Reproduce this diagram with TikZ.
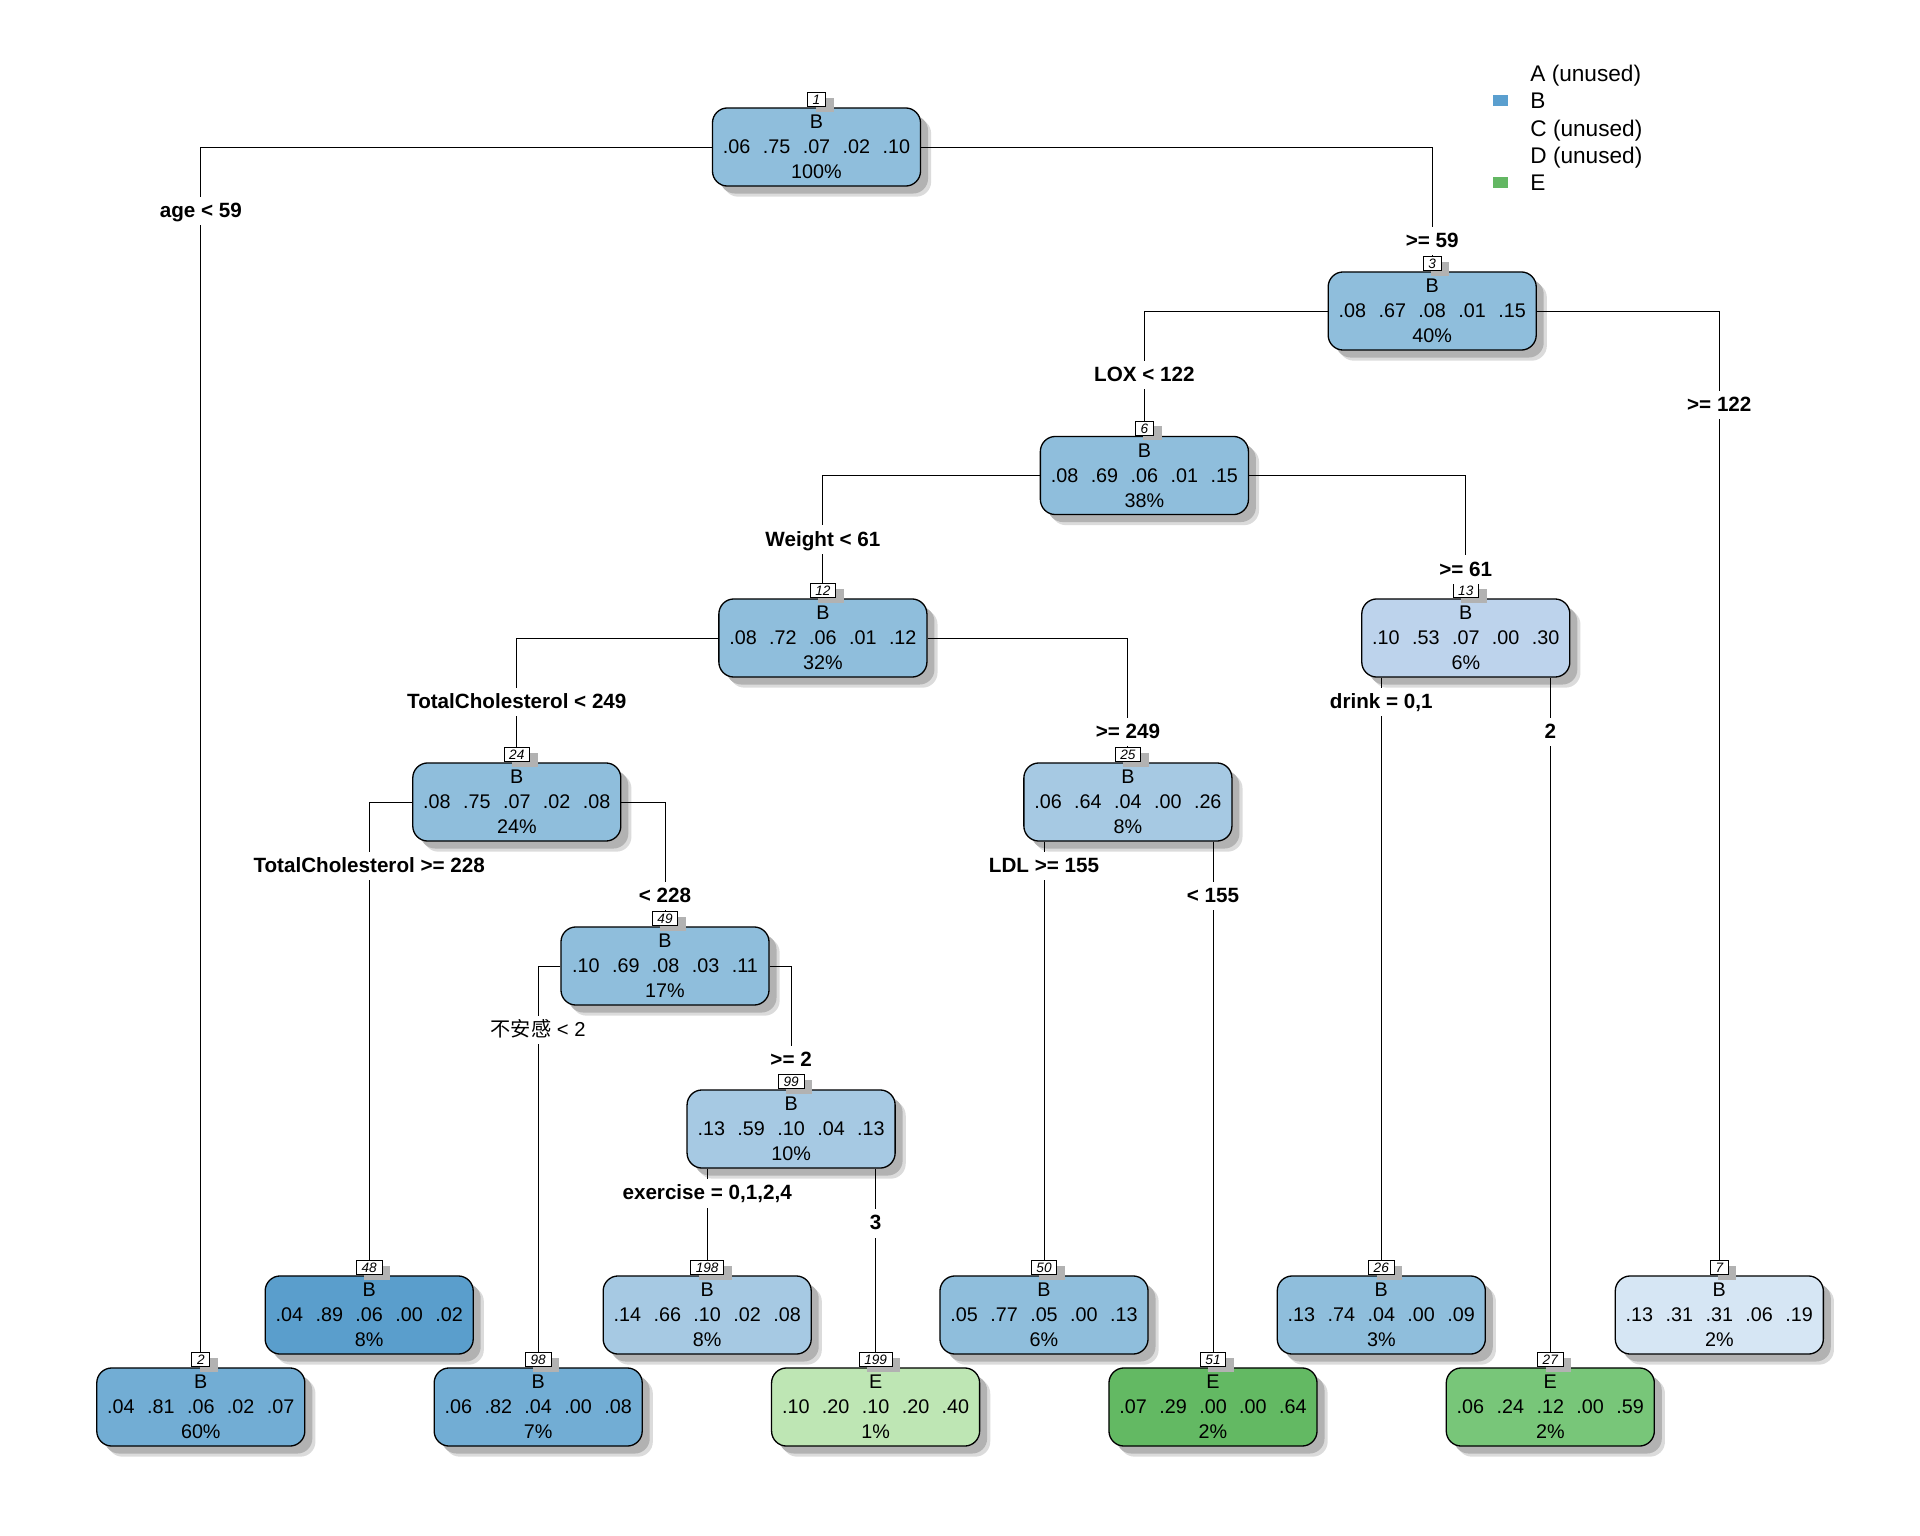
\documentclass[tikz,border=0pt]{standalone}
\usepackage{fontspec}
\setmainfont{Liberation Sans}
\newfontfamily\cjk{Noto Sans CJK SC}
\usepackage{tikz}
\usetikzlibrary{positioning, shadows}

\definecolor{blueD}{HTML}{5A9ECC}
\definecolor{blueC}{HTML}{72ADD4}
\definecolor{blueM}{HTML}{8FBEDC}
\definecolor{blueL}{HTML}{A6C9E3}
\definecolor{blueLL}{HTML}{BDD3EC}
\definecolor{blueW}{HTML}{D6E6F4}
\definecolor{greenL}{HTML}{BEE6B4}
\definecolor{greenM}{HTML}{78C679}
\definecolor{greenD}{HTML}{63B963}
\definecolor{legB}{HTML}{5A9FCF}
\definecolor{legE}{HTML}{63B763}

\def\gap{\hspace{0.63em}}

\begin{document}
\begin{tikzpicture}[x=0.016cm, y=-0.016cm,
  tbox/.style={draw, line width=0.6pt, rounded corners=0.24cm,
    minimum width=3.33cm, minimum height=1.25cm, inner sep=0pt, align=center,
    font=\fontsize{9}{11.4}\selectfont,
    drop shadow={shadow xshift=0.17cm, shadow yshift=-0.17cm, fill=black!14, opacity=1},
    drop shadow={shadow xshift=0.12cm, shadow yshift=-0.12cm, fill=black!30, opacity=1}},
  numbox/.style={draw, line width=0.4pt, fill=white, inner xsep=2.4pt, inner ysep=0pt,
    minimum height=0.224cm, font=\fontsize{6.2}{6.2}\selectfont\itshape,
    drop shadow={shadow xshift=0.13cm, shadow yshift=-0.08cm, fill=black!30, opacity=1}},
  split/.style={fill=white, inner xsep=1pt, inner ysep=2.6pt, text height=7pt, text depth=1pt,
    font=\fontsize{9.4}{11}\selectfont\bfseries},
  edge/.style={line width=0.45pt},
  legtext/.style={anchor=base west, inner sep=0pt, font=\fontsize{10.3}{12}\selectfont}]

\useasboundingbox (0,0) rectangle (1920,1536);

% -------------------------------------------------------
% 1. Split nodes
% -------------------------------------------------------
\node[tbox, fill=blueM] (n1) at (816.5,147) {B\\.06\gap.75\gap.07\gap.02\gap.10\\100\%};
\node[tbox, fill=blueM] (n3) at (1432.2,311) {B\\.08\gap.67\gap.08\gap.01\gap.15\\40\%};
\node[tbox, fill=blueM] (n6) at (1144.4,475.5) {B\\.08\gap.69\gap.06\gap.01\gap.15\\38\%};
\node[tbox, fill=blueM] (n12) at (822.9,638) {B\\.08\gap.72\gap.06\gap.01\gap.12\\32\%};
\node[tbox, fill=blueLL] (n13) at (1465.8,638) {B\\.10\gap.53\gap.07\gap.00\gap.30\\6\%};
\node[tbox, fill=blueM] (n24) at (516.8,802) {B\\.08\gap.75\gap.07\gap.02\gap.08\\24\%};
\node[tbox, fill=blueL] (n25) at (1127.9,802) {B\\.06\gap.64\gap.04\gap.00\gap.26\\8\%};
\node[tbox, fill=blueM] (n49) at (665,966) {B\\.10\gap.69\gap.08\gap.03\gap.11\\17\%};
\node[tbox, fill=blueL] (n99) at (791.1,1129) {B\\.13\gap.59\gap.10\gap.04\gap.13\\10\%};

% -------------------------------------------------------
% 2. Leaves (two rows)
% -------------------------------------------------------
\node[tbox, fill=blueD] (n48) at (369.2,1315) {B\\.04\gap.89\gap.06\gap.00\gap.02\\8\%};
\node[tbox, fill=blueL] (n198) at (707.2,1315) {B\\.14\gap.66\gap.10\gap.02\gap.08\\8\%};
\node[tbox, fill=blueM] (n50) at (1044,1315) {B\\.05\gap.77\gap.05\gap.00\gap.13\\6\%};
\node[tbox, fill=blueM] (n26) at (1381.3,1315) {B\\.13\gap.74\gap.04\gap.00\gap.09\\3\%};
\node[tbox, fill=blueW] (n7) at (1719.3,1315) {B\\.13\gap.31\gap.31\gap.06\gap.19\\2\%};

\node[tbox, fill=blueC] (n2) at (200.8,1407) {B\\.04\gap.81\gap.06\gap.02\gap.07\\60\%};
\node[tbox, fill=blueC] (n98) at (538.2,1407) {B\\.06\gap.82\gap.04\gap.00\gap.08\\7\%};
\node[tbox, fill=greenL] (n199) at (875.6,1407) {E\\.10\gap.20\gap.10\gap.20\gap.40\\1\%};
\node[tbox, fill=greenD] (n51) at (1213,1407) {E\\.07\gap.29\gap.00\gap.00\gap.64\\2\%};
\node[tbox, fill=greenM] (n27) at (1550.3,1407) {E\\.06\gap.24\gap.12\gap.00\gap.59\\2\%};

% node numbers
\foreach \k in {1,3,6,12,13,24,25,49,99,48,198,50,26,7,2,98,199,51,27} {
  \node[numbox, above=0pt of n\k] (k\k) {\k};
}

% -------------------------------------------------------
% 3. Branches
% -------------------------------------------------------
\draw[edge] (n1.west) -| (k2.north);
\draw[edge] (n1.east) -| (k3.north);
\draw[edge] (n3.west) -| (k6.north);
\draw[edge] (n3.east) -| (k7.north);
\draw[edge] (n6.west) -| (k12.north);
\draw[edge] (n6.east) -| (k13.north);
\draw[edge] (n12.west) -| (k24.north);
\draw[edge] (n12.east) -| (k25.north);
\draw[edge] (n13.south -| k26.north) -- (k26.north);
\draw[edge] (n13.south -| k27.north) -- (k27.north);
\draw[edge] (n24.west) -| (k48.north);
\draw[edge] (n24.east) -| (k49.north);
\draw[edge] (n25.south -| k50.north) -- (k50.north);
\draw[edge] (n25.south -| k51.north) -- (k51.north);
\draw[edge] (n49.west) -| (k98.north);
\draw[edge] (n49.east) -| (k99.north);
\draw[edge] (n99.south -| k198.north) -- (k198.north);
\draw[edge] (n99.south -| k199.north) -- (k199.north);

% split labels
\node[split] (s2) at (200.8,211) {age < 59};
\node[split] (s3) at (1432.2,241) {>= 59};
\node[split] (s6) at (1144.4,375) {LOX < 122};
\node[split] (s7) at (1719.3,405) {>= 122};
\node[split] (s12) at (822.9,539.5) {Weight < 61};
\node[split] (s13) at (1465.8,569.5) {>= 61};
\node[split] (s24) at (516.8,702) {TotalCholesterol < 249};
\node[split] (s25) at (1127.9,732) {>= 249};
\node[split] (s26) at (1381.3,702) {drink = 0,1};
\node[split] (s27) at (1550.3,732) {2};
\node[split] (s48) at (369.2,866) {TotalCholesterol >= 228};
\node[split] (s49) at (665,896) {< 228};
\node[split] (s50) at (1044,866) {LDL >= 155};
\node[split] (s51) at (1213,896) {< 155};
\node[split, font=\fontsize{9.2}{11}\selectfont] (s98) at (538.2,1030) {{\cjk 不安感} < 2};
\node[split] (s99) at (791.1,1060) {>= 2};
\node[split] (s198) at (707.2,1193) {exercise = 0,1,2,4};
\node[split] (s199) at (875.6,1223) {3};

% -------------------------------------------------------
% 4. Legend
% -------------------------------------------------------
\fill[legB] (1493,95) rectangle (1508,106);
\fill[legE] (1493,177) rectangle (1508,188);
\foreach \t [count=\i] in {A (unused), B, C (unused), D (unused), E} {
  \node[legtext] (leg\i) at (1530,{81.7+27.2*(\i-1)}) {\t};
}

\end{tikzpicture}
\end{document}
